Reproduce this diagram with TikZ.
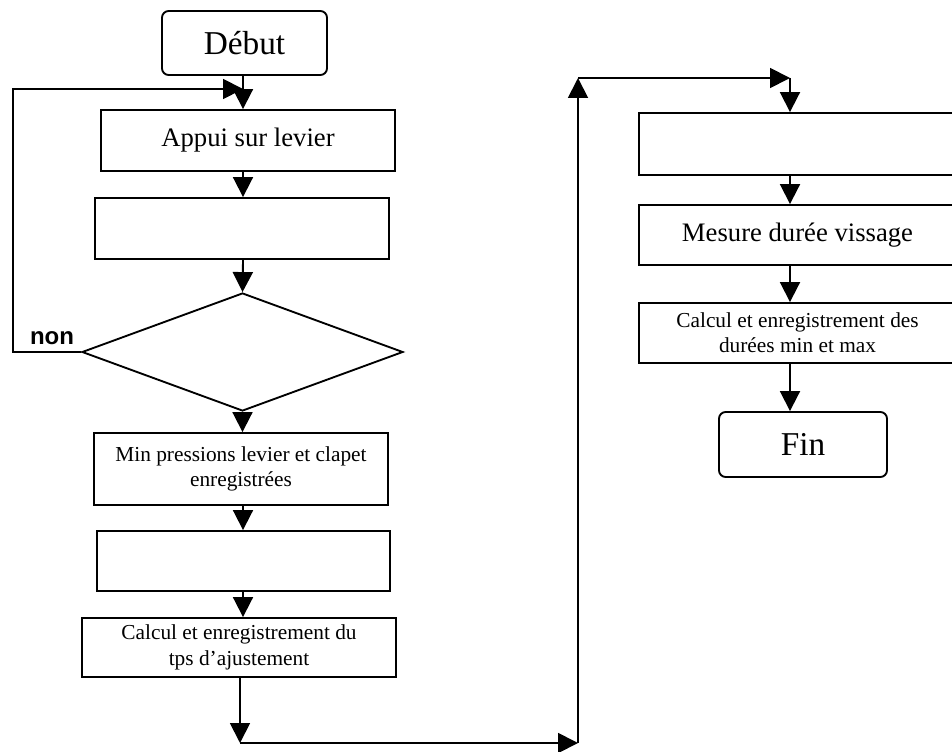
\documentclass[tikz,border=0pt]{standalone}
\usepackage{fontspec}
\setmainfont{Liberation Serif}
\newfontfamily\labelfont{Liberation Sans}
\usetikzlibrary{arrows.meta,shapes.geometric}
\begin{document}
\begin{tikzpicture}[x=0.75pt,y=-0.75pt,
  line width=1.4pt,
  box/.style={draw, rectangle, inner sep=0pt, align=center,
    font=\fontsize{20}{24}\selectfont},
  smallbox/.style={box, font=\fontsize{16}{19}\selectfont},
  term/.style={box, rounded corners=5pt, font=\fontsize{25}{30}\selectfont},
  cond/.style={draw, diamond, inner sep=0pt},
  arr/.style={-{Triangle[length=15pt,width=15pt]}},
  tag/.style={font=\labelfont\bfseries\fontsize{18}{20}\selectfont},
]
\useasboundingbox (0,0) rectangle (952,752);

% columns of the two branches
\coordinate (colL) at (243,0);
\coordinate (colR) at (790,0);

% left branch
\node[term, minimum width=123.75pt, minimum height=48pt] (debut) at (244.5,43) {Début};
\node[box, minimum width=220.5pt, minimum height=45.75pt] (appui) at (248,140.5) {Appui sur levier};
\node[box, minimum width=220.5pt, minimum height=45.75pt] (etape1) at (242,228.5) {};
\node[cond, minimum width=240.75pt, minimum height=88.5pt] (test) at (242.5,352) {};
\node[smallbox, minimum width=220.5pt, minimum height=54pt] (minp) at (241,469) {Min pressions levier et clapet\\enregistrées};
\node[box, minimum width=219.75pt, minimum height=45pt] (etape2) at (243.5,561) {};
\node[smallbox, minimum width=235.5pt, minimum height=44.25pt] (calcA) at (239,647.5) {Calcul et enregistrement du\\tps d’ajustement};

% right branch
\node[box, minimum width=237.75pt, minimum height=46.5pt] (etape3) at (797.5,144) {};
\node[box, minimum width=237.75pt, minimum height=45pt] (mesure) at (797.5,235) {Mesure durée vissage};
\node[smallbox, minimum width=237.75pt, minimum height=45pt] (calcB) at (797.5,333) {Calcul et enregistrement des\\durées min et max};
\node[term, minimum width=126pt, minimum height=48.75pt] (fin) at (803,444.5) {Fin};

\node[tag] (non) at (52,338) {non};

% loop back when the test fails
\coordinate (loopL) at (13,89);
\coordinate (join) at (243,89);
\draw[arr] (test.west) -| (loopL) -- (join);

% left column links
\draw[arr] (debut.south -| colL) -- (appui.north -| colL);
\draw[arr] (appui.south -| colL) -- (etape1.north -| colL);
\draw[arr] (etape1.south -| colL) -- (test.north);
\draw[arr] (test.south) -- (minp.north -| test.south);
\draw[arr] (minp.south -| colL) -- (etape2.north -| colL);
\draw[arr] (etape2.south -| colL) -- (calcA.north -| colL);

% passage to the right column
\coordinate (bl) at (240,743);
\coordinate (br) at (578,743);
\coordinate (tr) at (578,78);
\coordinate (tt) at (790,78);
\draw[arr] (calcA.south -| bl) -- (bl);
\draw[arr] (bl) -- (br);
\draw[arr] (br) -- (tr);
\draw[arr] (tr) -- (tt);
\draw[arr] (tt) -- (etape3.north -| colR);

% right column links
\draw[arr] (etape3.south -| colR) -- (mesure.north -| colR);
\draw[arr] (mesure.south -| colR) -- (calcB.north -| colR);
\draw[arr] (calcB.south -| colR) -- (fin.north -| colR);
\end{tikzpicture}
\end{document}
